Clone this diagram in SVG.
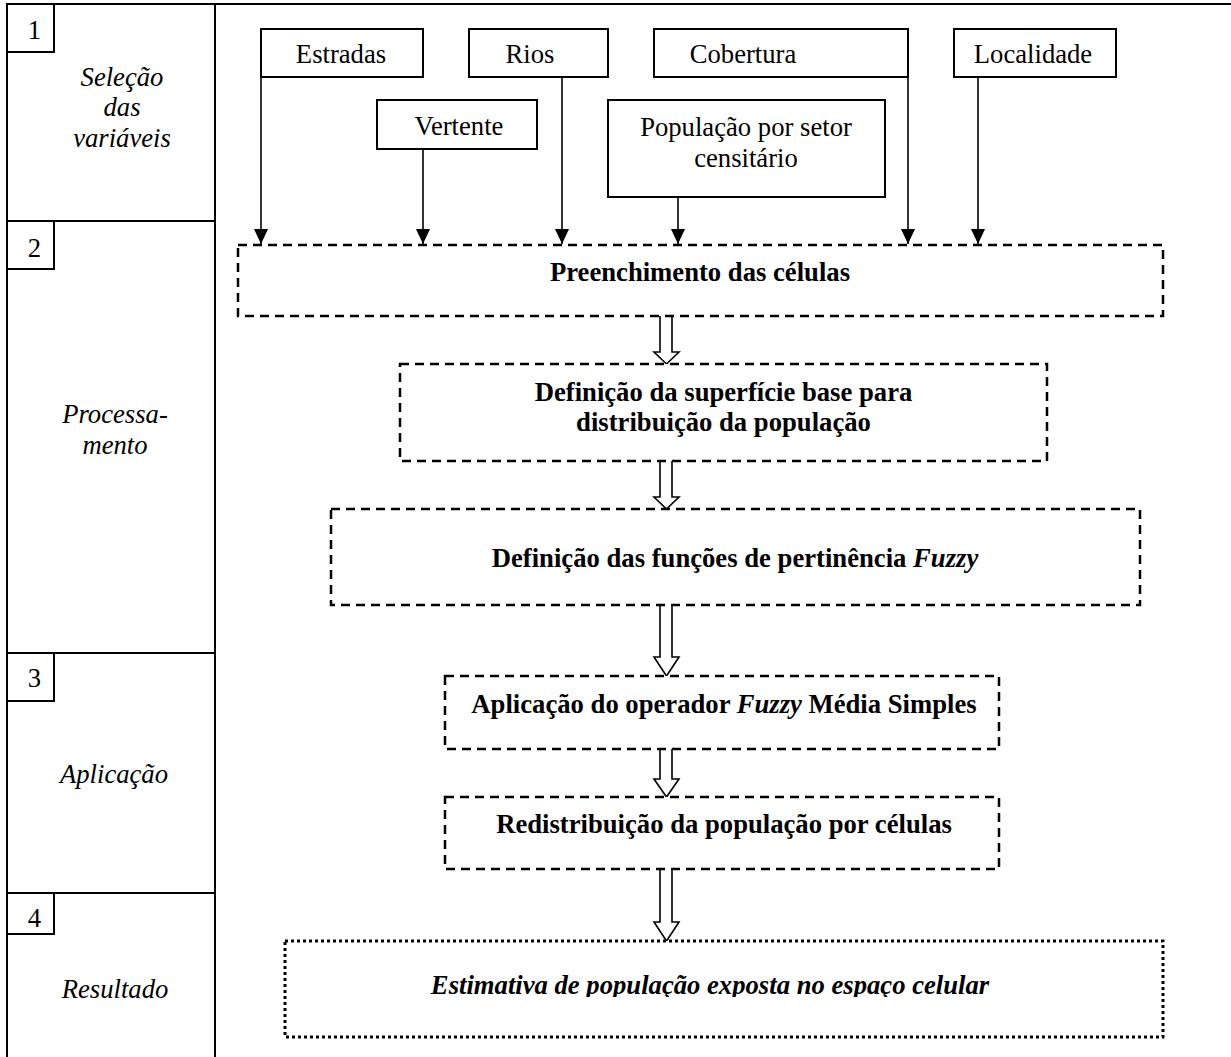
<svg xmlns="http://www.w3.org/2000/svg" width="1231" height="1057" viewBox="0 0 1231 1057">
<style>
text{font-family:"Liberation Serif","Times New Roman",serif;font-size:26.67px;fill:#000}
.frame{stroke:#000;stroke-width:2;fill:none}
.box{stroke:#000;stroke-width:2;fill:#fff}
.dash{stroke:#000;stroke-width:2.5;fill:#fff;stroke-dasharray:9 6}
.dot{stroke:#000;stroke-width:3;fill:#fff;stroke-dasharray:3 3}
.lbl{font-style:italic}
.b{font-weight:bold}
.c{text-anchor:middle}
.ln{stroke:#000;stroke-width:1.6;fill:none}
.hollow{stroke:#000;stroke-width:1.6;fill:#fff}
</style>
<defs>
<marker id="ah" viewBox="0 0 15 14" refX="15" refY="7" markerWidth="15" markerHeight="14" markerUnits="userSpaceOnUse" orient="auto">
<path d="M0,0 L15,7 L0,14 z" fill="#000"/>
</marker>
<clipPath id="clipF"><rect x="285" y="941" width="878" height="56"/></clipPath>
</defs>
<rect width="1231" height="1057" fill="#fff"/>
<g id="frame">
<path class="frame" d="M7,1057 V4 H1231 M215,4 V1057 M7,221 H215 M7,653 H215 M7,893 H215"/>
</g>
<g id="stage1">
<rect class="frame" x="7" y="4" width="47" height="48"/>
<text class="c" x="34.5" y="39">1</text>
<text class="c lbl" x="122" y="86">Seleção</text>
<text class="c lbl" x="122" y="116">das</text>
<text class="c lbl" x="122" y="147">variáveis</text>
</g>
<g id="stage2">
<rect class="frame" x="7" y="221" width="47" height="48"/>
<text class="c" x="34.5" y="256.5">2</text>
<text class="c lbl" x="115" y="423">Processa-</text>
<text class="c lbl" x="115" y="454">mento</text>
</g>
<g id="stage3">
<rect class="frame" x="7" y="653" width="47" height="48"/>
<text class="c" x="34.5" y="687">3</text>
<text class="c lbl" x="114" y="783">Aplicação</text>
</g>
<g id="stage4">
<rect class="frame" x="7" y="893" width="47" height="41"/>
<text class="c" x="34.5" y="927">4</text>
<text class="c lbl" x="115" y="998">Resultado</text>
</g>
<g id="connectors">
<path class="ln" marker-end="url(#ah)" d="M261,77 V244"/>
<path class="ln" marker-end="url(#ah)" d="M423,149 V244"/>
<path class="ln" marker-end="url(#ah)" d="M562,77 V244"/>
<path class="ln" marker-end="url(#ah)" d="M678,197 V244"/>
<path class="ln" marker-end="url(#ah)" d="M908,77 V244"/>
<path class="ln" marker-end="url(#ah)" d="M978,77 V244"/>
<path class="hollow" d="M660,316 V352 H654 L666.5,364 L679,352 H672 V316"/>
<path class="hollow" d="M660,461 V497 H654 L666.5,509 L679,497 H672 V461"/>
<path class="hollow" d="M660,605 V657 H654 L666.5,676 L679,657 H672 V605"/>
<path class="hollow" d="M660,749 V779 H654 L666.5,797 L679,779 H672 V749"/>
<path class="hollow" d="M660,869 V922 H654 L666.5,941 L679,922 H672 V869"/>
</g>
<g id="estradas">
<rect class="box" x="261" y="29" width="162" height="48"/>
<text class="c" x="341" y="63">Estradas</text>
</g>
<g id="rios">
<rect class="box" x="469" y="29" width="139" height="48"/>
<text class="c" x="530" y="63">Rios</text>
</g>
<g id="cobertura">
<rect class="box" x="654" y="29" width="254" height="48"/>
<text class="c" x="743" y="63">Cobertura</text>
</g>
<g id="localidade">
<rect class="box" x="954" y="29" width="162" height="48"/>
<text class="c" x="1033" y="63">Localidade</text>
</g>
<g id="vertente">
<rect class="box" x="377" y="100" width="160" height="49"/>
<text class="c" x="459" y="135">Vertente</text>
</g>
<g id="populacao">
<rect class="box" x="608" y="100" width="277" height="97"/>
<text class="c" x="746" y="136">População por setor</text>
<text class="c" x="746" y="167">censitário</text>
</g>
<g id="preenchimento">
<rect class="dash" x="238" y="245" width="925" height="71"/>
<text class="c b" x="700" y="281">Preenchimento das células</text>
</g>
<g id="superficie">
<rect class="dash" x="400" y="364" width="647" height="97"/>
<text class="c b" x="723.5" y="401">Definição da superfície base para</text>
<text class="c b" x="723.5" y="431">distribuição da população</text>
</g>
<g id="pertinencia">
<rect class="dash" x="331" y="509" width="809" height="96"/>
<text class="c b" x="735" y="567">Definição das funções de pertinência <tspan font-style="italic">Fuzzy</tspan></text>
</g>
<g id="operador">
<rect class="dash" x="445" y="676" width="554" height="73"/>
<text class="c b" x="724" y="713">Aplicação do operador <tspan font-style="italic">Fuzzy</tspan> Média Simples</text>
</g>
<g id="redistribuicao">
<rect class="dash" x="445" y="797" width="554" height="72"/>
<text class="c b" x="724" y="833">Redistribuição da população por células</text>
</g>
<g id="estimativa">
<rect class="dot" x="285" y="941" width="878" height="96"/>
<text class="c b" clip-path="url(#clipF)" x="710" y="994" font-style="italic" font-size="29.3">Estimativa de população exposta no espaço celular</text>
</g>
</svg>
